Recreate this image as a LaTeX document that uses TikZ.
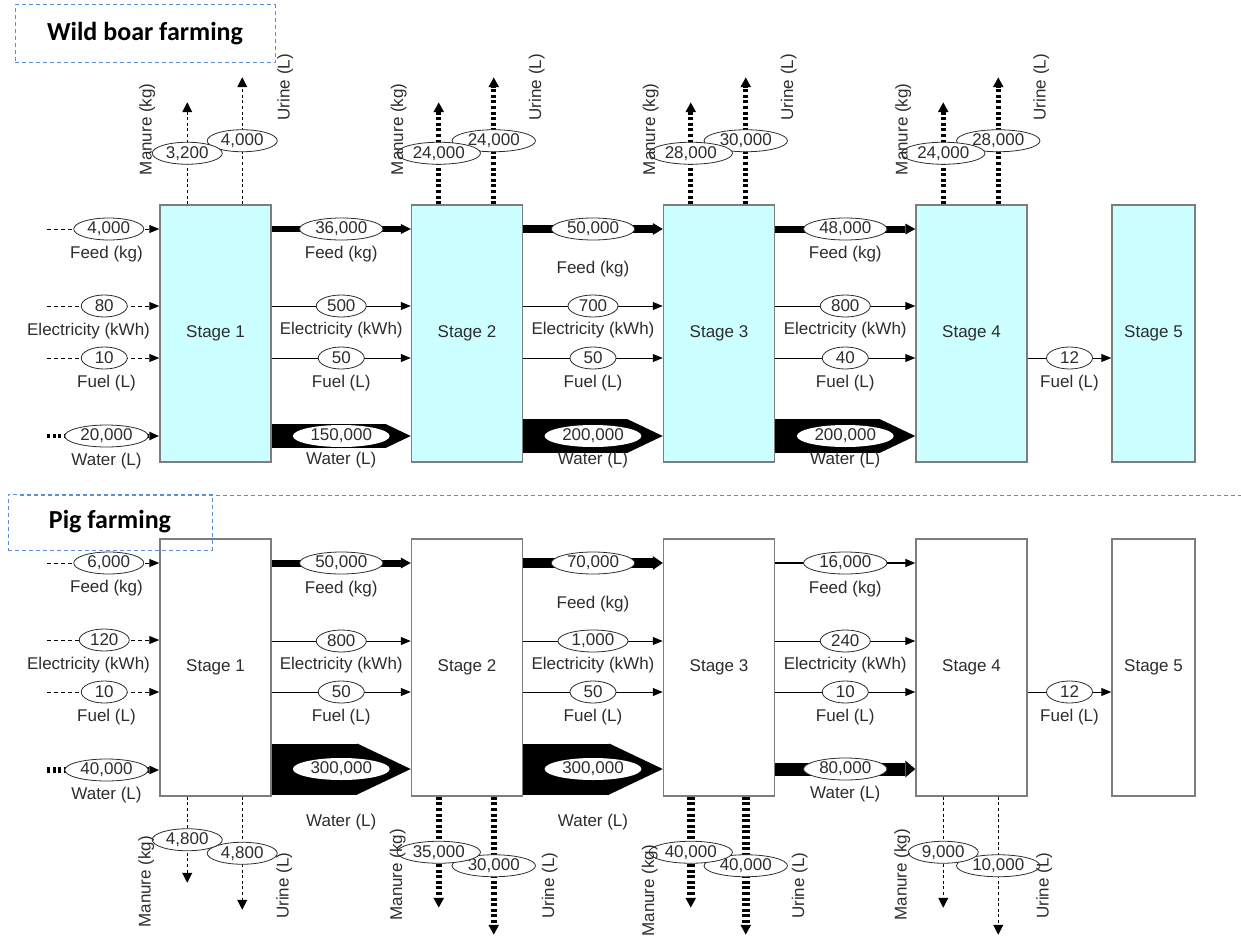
\documentclass[tikz,border=0pt]{standalone}
\usepackage{fontspec}
\setmainfont{Liberation Sans}
\newfontfamily\headfont{Carlito}
\usetikzlibrary{arrows.meta,shapes.geometric,calc}

\definecolor{boarcyan}{RGB}{204,255,255}
\definecolor{boxgray}{RGB}{125,125,125}
\definecolor{ink}{RGB}{45,45,45}
\definecolor{headblue}{RGB}{91,143,210}

\tikzset{
  stagebox/.style={draw=boxgray, line width=1.5pt, minimum width=111pt, minimum height=257pt, inner sep=0pt, text=ink},
  boar/.style={stagebox, fill=boarcyan},
  pig/.style={stagebox, fill=white},
  val/.style={ellipse, solid, draw=ink, line width=0.8pt, fill=white, inner xsep=3.5pt, inner ysep=0pt, minimum width=46pt, minimum height=22pt, text=ink},
  lab/.style={text=ink, yshift=-#1},
  lab/.default=25pt,
  vlab/.style={text=ink, rotate=90},
  flowline/.style={draw=black, line width=1pt, -{Triangle[length=10pt,width=8pt]}},
  inflow/.style={flowline, dash pattern=on 4pt off 3pt},
  wetin/.style={flowline, line width=#1, dash pattern=on 3pt off 2.5pt},
  feedflow/.style={draw=black, line width=#1, -{Triangle[length=10pt,width=4pt 1,line width=0pt]}},
  waterflow/.style={draw=black, line width=#1, -{Triangle[length=0pt 1.05,width=0pt 1,line width=0pt]}},
  outflow/.style={draw=black, line width=#1, dash pattern=on 3pt off 2.6pt, -{Triangle[length=10pt,width=10pt]}},
  headbox/.style={draw=headblue, line width=1pt, dash pattern=on 4pt off 3pt, font=\headfont\bfseries\fontsize{26}{30}\selectfont}
}

\begin{document}
\begin{tikzpicture}[x=1pt, y=-1pt, every node/.style={font=\fontsize{17}{20}\selectfont}]
\useasboundingbox (0,0) rectangle (1241,939);

% stages
\foreach \i/\x in {1/215.5, 2/467, 3/719, 4/971.5} {
  \node[boar] (b\i) at (\x,333.5) {Stage \i};
  \node[pig] (p\i) at (\x,667.5) {Stage \i};
}
\node[boar, minimum width=83pt] (b5) at (1153.5,333.5) {Stage 5};
\node[pig, minimum width=83pt] (p5) at (1153.5,667.5) {Stage 5};

% inputs from the left
\foreach \f/\y/\fd/\el/\fu/\wa/\ww in {b/0/4{,}000/80/10/20{,}000/3.5pt, p/334/6{,}000/120/10/40{,}000/6pt} {
  \coordinate (\f in1) at (47,229+\y);
  \coordinate (\f in2) at (47,306+\y);
  \coordinate (\f in3) at (47,358+\y);
  \coordinate (\f in4) at (47,436+\y);
  \draw[inflow] (\f in1) -- node[val,pos=.55]{\fd} node[lab,pos=.53]{Feed (kg)} (\f1.west |- \f in1);
  \draw[inflow] (\f in2) -- node[val,pos=.51]{\el} node[lab,pos=.37]{Electricity (kWh)} (\f1.west |- \f in2);
  \draw[inflow] (\f in3) -- node[val,pos=.51]{\fu} node[lab,pos=.53]{Fuel (L)} (\f1.west |- \f in3);
  \draw[wetin=\ww] (\f in4) -- node[val,pos=.53]{\wa} node[lab,pos=.53]{Water (L)} (\f1.west |- \f in4);
}

% feed between stages
\foreach \f/\y/\a/\b/\w/\v/\d in {b/229/1/2/6pt/36{,}000/25pt, b/229/2/3/8pt/50{,}000/40pt, b/229/3/4/7pt/48{,}000/25pt,
    p/563/1/2/7pt/50{,}000/26pt, p/563/2/3/10pt/70{,}000/41pt}
  \draw[feedflow=\w] (\f\a.east |- 0,\y) -- node[val]{\v} node[lab=\d]{Feed (kg)} (\f\b.west |- 0,\y);
\draw[flowline, line width=1.5pt] (p3.east |- 0,563) -- node[val]{16{,}000} node[lab=26pt]{Feed (kg)} (p4.west |- 0,563);

% electricity and fuel between stages
\foreach \f/\ye/\yu/\a/\b/\e/\u in {b/306/358/1/2/500/50, b/306/358/2/3/700/50, b/306/358/3/4/800/40,
    p/641/692/1/2/800/50, p/641/692/2/3/1{,}000/50, p/641/692/3/4/240/10} {
  \draw[flowline] (\f\a.east |- 0,\ye) -- node[val]{\e} node[lab=24pt]{Electricity (kWh)} (\f\b.west |- 0,\ye);
  \draw[flowline] (\f\a.east |- 0,\yu) -- node[val]{\u} node[lab]{Fuel (L)} (\f\b.west |- 0,\yu);
}
\draw[flowline] (b4.east |- 0,358) -- node[val]{12} node[lab]{Fuel (L)} (b5.west |- 0,358);
\draw[flowline] (p4.east |- 0,692) -- node[val]{12} node[lab]{Fuel (L)} (p5.west |- 0,692);

% water between stages
\foreach \f/\y/\a/\b/\w/\v/\d in {b/436/1/2/24pt/150{,}000/24pt, b/436/2/3/34pt/200{,}000/24pt, b/436/3/4/34pt/200{,}000/24pt,
    p/769/1/2/51pt/300{,}000/53pt, p/769/2/3/51pt/300{,}000/53pt}
  \draw[waterflow=\w] (\f\a.east |- 0,\y) -- node[val, draw=none]{\v} node[lab=\d]{Water (L)} (\f\b.west |- 0,\y);
\draw[feedflow=13pt] (p3.east |- 0,769) -- node[val]{80{,}000} node[lab]{Water (L)} (p4.west |- 0,769);

% manure and urine, wild boar
\foreach \s/\w/\m/\u in {1/1pt/3{,}200/4{,}000, 2/5pt/24{,}000/24{,}000, 3/5pt/28{,}000/30{,}000, 4/5pt/24{,}000/28{,}000} {
  \coordinate (bu\s) at ($(b\s.north west)+(83,-127)$);
  \coordinate (bm\s) at ($(b\s.north west)+(28,-102)$);
  \draw[outflow=\w] ($(b\s.north west)+(83,0)$) -- node[val]{\u} (bu\s);
  \draw[outflow=\w] ($(b\s.north west)+(28,0)$) -- node[val]{\m} (bm\s);
  \node[vlab] (bml\s) at ($(b\s.north west)+(-12,-75)$) {Manure (kg)};
  \node[vlab] (bul\s) at ($(b\s.north west)+(126,-117)$) {Urine (L)};
}

% manure and urine, pig
\foreach \s/\w/\dm/\du/\m/\u/\my/\ux in {1/1pt/86/113/4{,}800/4{,}800/85/125, 2/6pt/111/138/35{,}000/30{,}000/78/139,
    3/8pt/111/138/40{,}000/40{,}000/94/137, 4/1pt/111/138/9{,}000/10{,}000/78/129} {
  \coordinate (pu\s) at ($(p\s.south west)+(83,\du)$);
  \coordinate (pm\s) at ($(p\s.south west)+(28,\dm)$);
  \draw[outflow=\w] ($(p\s.south west)+(83,0)$) -- node[val]{\u} (pu\s);
  \draw[outflow=\w] ($(p\s.south west)+(28,0)$) -- node[val]{\m} (pm\s);
  \node[vlab] (pml\s) at ($(p\s.south west)+(-13,\my)$) {Manure (kg)};
  \node[vlab] (pul\s) at ($(p\s.south west)+(\ux,89)$) {Urine (L)};
}

% headings
\node[headbox, minimum width=260pt, minimum height=58pt] (boarhead) at (145,34) {Wild boar farming};
\draw[draw=headblue, line width=1pt, dash pattern=on 4pt off 3pt] (20,495) -- (1241,495);
\node[headbox, minimum width=204pt, minimum height=56pt] (pighead) at (110,522) {Pig farming};
\end{tikzpicture}
\end{document}
